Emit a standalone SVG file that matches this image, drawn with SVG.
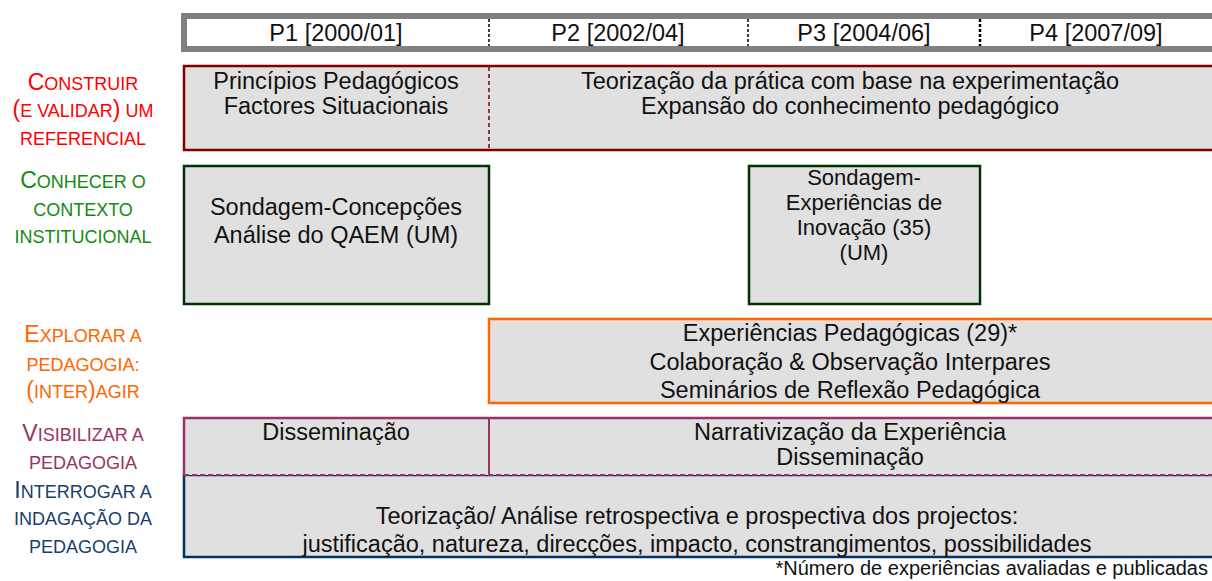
<svg xmlns="http://www.w3.org/2000/svg" width="1212" height="581" viewBox="0 0 1212 581">
<style>
text{font-family:"Liberation Sans",Arial,sans-serif;}
.t{font-size:23.5px;fill:#111;text-anchor:middle;}
.t2{font-size:22px;fill:#111;text-anchor:middle;}
.fn{font-size:20px;fill:#111;text-anchor:end;}
.lab{text-anchor:middle;font-size:18px;}
.big{font-size:23px;}
.box{fill:#e0e0e0;stroke-width:2.5;}
.hdiv{stroke:#000;stroke-dasharray:3 2;}
</style>
<rect width="1212" height="581" fill="#fff"/>
<g id="header">
<rect x="184" y="16" width="1040" height="33" fill="#fff" stroke="#808080" stroke-width="6"/>
<line class="hdiv" x1="489" y1="19" x2="489" y2="46" stroke-width="1.5"/>
<line class="hdiv" x1="748" y1="19" x2="748" y2="46" stroke-width="1.5"/>
<line class="hdiv" x1="980" y1="19" x2="980" y2="46" stroke-width="2.5"/>
<text class="t" x="336" y="41">P1 [2000/01]</text>
<text class="t" x="618" y="41">P2 [2002/04]</text>
<text class="t" x="864" y="41">P3 [2004/06]</text>
<text class="t" x="1096" y="41">P4 [2007/09]</text>
</g>
<g id="labels">
<text class="lab" fill="#ff0000"><tspan x="83" y="90"><tspan class="big">C</tspan>ONSTRUIR</tspan><tspan x="83" y="117"><tspan class="big">(</tspan>E VALIDAR<tspan class="big">)</tspan> UM</tspan><tspan x="83" y="145">REFERENCIAL</tspan></text>
<text class="lab" fill="#138a13"><tspan x="83" y="188"><tspan class="big">C</tspan>ONHECER O</tspan><tspan x="83" y="216">CONTEXTO</tspan><tspan x="83" y="243">INSTITUCIONAL</tspan></text>
<text class="lab" fill="#ff6600"><tspan x="83" y="342"><tspan class="big">E</tspan>XPLORAR A</tspan><tspan x="83" y="371">PEDAGOGIA:</tspan><tspan x="83" y="398"><tspan class="big">(</tspan>INTER<tspan class="big">)</tspan>AGIR</tspan></text>
<text class="lab" fill="#993366"><tspan x="83" y="441"><tspan class="big">V</tspan>ISIBILIZAR A</tspan><tspan x="83" y="469">PEDAGOGIA</tspan></text>
<text class="lab" fill="#17406d"><tspan x="83" y="498"><tspan class="big">I</tspan>NTERROGAR A</tspan><tspan x="83" y="525">INDAGAÇÃO DA</tspan><tspan x="83" y="553">PEDAGOGIA</tspan></text>
</g>
<g id="row-referencial">
<rect class="box" x="184" y="66" width="1040" height="84" stroke="#800000"/>
<line x1="489" y1="67" x2="489" y2="149" stroke="#800000" stroke-width="1.5" stroke-dasharray="4 3"/>
<text class="t" x="336" y="89">Princípios Pedagógicos</text>
<text class="t" x="336" y="114">Factores Situacionais</text>
<text class="t" x="850" y="89">Teorização da prática com base na experimentação</text>
<text class="t" x="850" y="114">Expansão do conhecimento pedagógico</text>
</g>
<g id="row-contexto-1">
<rect class="box" x="184" y="166" width="305" height="138" stroke="#003300"/>
<text class="t" x="336" y="215">Sondagem-Concepções</text>
<text class="t" x="336" y="243">Análise do QAEM (UM)</text>
</g>
<g id="row-contexto-2">
<rect class="box" x="749" y="166" width="231" height="138" stroke="#003300"/>
<text class="t2" x="864" y="185">Sondagem-</text>
<text class="t2" x="864" y="210">Experiências de</text>
<text class="t2" x="864" y="235">Inovação (35)</text>
<text class="t2" x="864" y="260">(UM)</text>
</g>
<g id="row-explorar">
<rect class="box" x="489" y="319" width="735" height="84" stroke="#ff6600"/>
<text class="t" x="850" y="341">Experiências Pedagógicas (29)*</text>
<text class="t" x="850" y="369.5">Colaboração &amp; Observação Interpares</text>
<text class="t" x="850" y="398">Seminários de Reflexão Pedagógica</text>
</g>
<g id="row-interrogar">
<rect x="184" y="475" width="1040" height="82" fill="#e0e0e0" stroke="#003366" stroke-width="2.5"/>
<text class="t" x="697" y="524">Teorização/ Análise retrospectiva e prospectiva dos projectos:</text>
<text class="t" x="697" y="552">justificação, natureza, direcções, impacto, constrangimentos, possibilidades</text>
</g>
<g id="row-visibilizar">
<rect x="184" y="418" width="1040" height="57" fill="#e0e0e0"/>
<path d="M184 476V418H1214" fill="none" stroke="#993366" stroke-width="2.5"/>
<line x1="184" y1="475" x2="1214" y2="475" stroke="#993366" stroke-width="2" stroke-dasharray="5 3"/>
<line x1="489" y1="418" x2="489" y2="474" stroke="#993366" stroke-width="2"/>
<text class="t" x="336" y="440">Disseminação</text>
<text class="t" x="850" y="440">Narrativização da Experiência</text>
<text class="t" x="850" y="465">Disseminação</text>
</g>
<g id="connectors"/>
<text class="fn" x="1208" y="575">*Número de experiências avaliadas e publicadas</text>
</svg>
